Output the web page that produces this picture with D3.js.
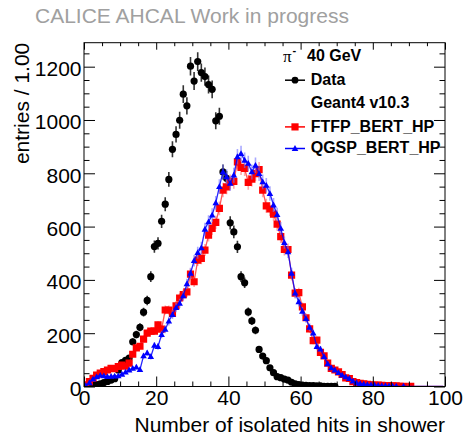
<!DOCTYPE html>
<html>
<head>
<meta charset="utf-8">
<script src="https://cdn.jsdelivr.net/npm/d3@7"></script>
<style>
  body { margin: 0; background: #fff; }
  text { font-family: "Liberation Sans", Arial, Helvetica, sans-serif; }
</style>
</head>
<body>
<svg id="chart" width="467" height="436"></svg>
<script>
// Number of isolated hits per shower, 1-hit bins starting at 0
const dataCounts = [
  1, 3, 5, 7, 10, 15, 19, 24, 29, 62,
  90, 98, 107, 168, 195, 222, 279, 323, 412, 525,
  537, 620, 684, 777, 890, 946, 999, 1097, 1053, 1202,
  1146, 1219, 1178, 1163, 1133, 1115, 997, 1014, 805, 781,
  614, 580, 524, 412, 389, 280, 246, 211, 139, 114,
  97, 70, 52, 37, 33, 28, 24, 16, 10, 7,
  5, 4, 3, 3, 2, 2, 1, 1, 1, 1
];
const ftfpCounts = [
  6, 18, 31, 43, 50, 56, 62, 68, 67, 75,
  80, 76, 88, 121, 145, 151, 178, 200, 208, 208,
  231, 215, 287, 287, 274, 303, 332, 345, 355, 422,
  393, 474, 481, 512, 568, 593, 616, 668, 737, 749,
  768, 770, 843, 822, 818, 766, 778, 799, 814, 737,
  678, 666, 647, 609, 562, 514, 514, 418, 350, 352,
  299, 258, 216, 172, 174, 128, 115, 88, 68, 62,
  55, 45, 32, 30, 18, 15, 12, 10, 8, 6,
  5, 5, 4, 3, 3, 2, 2, 1, 1, 0, 1
];
const qgspCounts = [
  3, 14, 28, 36, 42, 40, 37, 38, 39, 40,
  46, 54, 62, 68, 73, 63, 115, 126, 112, 154,
  150, 195, 214, 245, 270, 296, 312, 340, 385, 425,
  472, 502, 520, 590, 618, 643, 689, 750, 805, 787,
  762, 793, 862, 874, 849, 837, 805, 830, 799, 768,
  755, 724, 681, 645, 593, 540, 505, 425, 350, 318,
  282, 255, 222, 200, 150, 140, 112, 85, 70, 62,
  52, 43, 36, 30, 20, 14, 11, 9, 7, 6,
  5, 4, 3, 3, 2, 1, 1, 0, 1
];
const nBins = 100;
const xTickValues = [0, 20, 40, 60, 80, 100];
const yTickValues = [0, 200, 400, 600, 800, 1000, 1200];
const xLabel = "Number of isolated hits in shower";
const yLabel = "entries /  1.00";
const headerText = "CALICE AHCAL Work in progress";

const svg = d3.select("#chart");
const plot = { left: 84, right: 445, top: 42.7, bottom: 386.5 };

const x = d3.scaleLinear().domain([0, 100]).range([plot.left, plot.right]);
const y = d3.scaleLinear().domain([0, 1290]).range([plot.bottom, plot.top]);

svg.append("rect").attr("width", 467).attr("height", 436).attr("fill", "#fff");

// header
svg.append("text").attr("x", 35).attr("y", 22.5)
  .attr("font-size", 21).attr("fill", "#a0a0a0").text(headerText);

// clip to the frame
svg.append("clipPath").attr("id", "frame-clip").append("rect")
  .attr("x", plot.left).attr("y", plot.top)
  .attr("width", plot.right - plot.left).attr("height", plot.bottom - plot.top);

const pad = arr => d3.range(nBins).map(i => (i < arr.length ? arr[i] : 0));
const toPoints = arr => pad(arr).map((v, i) => ({ c: i + 0.5, v }));

const layer = svg.append("g").attr("clip-path", "url(#frame-clip)");

// measured data
const dataPts = toPoints(dataCounts).filter(d => d.v > 0);
layer.append("g").selectAll("line").data(dataPts).join("line")
  .attr("x1", d => x(d.c)).attr("x2", d => x(d.c))
  .attr("y1", d => y(d.v - Math.sqrt(d.v))).attr("y2", d => y(d.v + Math.sqrt(d.v)))
  .attr("stroke", "#333").attr("stroke-width", 1.6);
layer.append("g").selectAll("circle").data(dataPts).join("circle")
  .attr("cx", d => x(d.c)).attr("cy", d => y(d.v)).attr("r", 3.6).attr("fill", "#000");

// simulated series
function drawSim(counts, color, lightColor, lineOpacity, marker) {
  const pts = toPoints(counts);
  const g = layer.append("g");
  const nz = pts.filter(d => d.v > 0);
  g.append("g").selectAll("line").data(nz).join("line")
    .attr("x1", d => x(d.c)).attr("x2", d => x(d.c))
    .attr("y1", d => y(d.v - Math.sqrt(d.v))).attr("y2", d => y(d.v + Math.sqrt(d.v)))
    .attr("stroke", lightColor).attr("stroke-width", 1.6).attr("stroke-opacity", 0.6);
  g.append("path").datum(pts)
    .attr("d", d3.line().x(d => x(d.c)).y(d => y(d.v)))
    .attr("fill", "none").attr("stroke", color).attr("stroke-width", 1.3)
    .attr("stroke-opacity", lineOpacity);
  g.append("g").selectAll("path").data(nz).join("path")
    .attr("transform", d => `translate(${x(d.c)},${y(d.v)})`)
    .attr("d", marker).attr("fill", color);
}
const squareMarker = "M-3.6,-3.6H3.6V3.6H-3.6Z";
const triangleMarker = "M0,-3.4L3.3,2.4H-3.3Z";
drawSim(ftfpCounts, "#ff0000", "#ff7070", 0.65, squareMarker);
drawSim(qgspCounts, "#0000ff", "#6f6fff", 0.85, triangleMarker);

// axes
const minorX = d3.range(0, 101, 5).filter(v => v % 20 !== 0);
const minorY = d3.range(0, 1290, 50).filter(v => v % 200 !== 0);
function styleAxis(g) {
  g.select(".domain").remove();
  g.selectAll("line").attr("stroke", "#000").attr("stroke-width", 1);
  g.selectAll("text").attr("font-size", 21).attr("fill", "#000")
    .attr("font-family", '"Liberation Sans", Arial, Helvetica, sans-serif');
}
svg.append("g").attr("transform", `translate(0,${plot.bottom})`)
  .call(d3.axisBottom(x).tickValues(xTickValues).tickSize(-10).tickPadding(4).tickFormat(d3.format("d")))
  .call(styleAxis);
svg.append("g").attr("transform", `translate(0,${plot.bottom})`)
  .call(d3.axisBottom(x).tickValues(minorX).tickSize(-5).tickFormat(""))
  .call(styleAxis);
svg.append("g").attr("transform", `translate(0,${plot.top})`)
  .call(d3.axisTop(x).tickValues(xTickValues).tickSize(-7).tickFormat(""))
  .call(styleAxis);
svg.append("g").attr("transform", `translate(0,${plot.top})`)
  .call(d3.axisTop(x).tickValues(minorX).tickSize(-3.5).tickFormat(""))
  .call(styleAxis);
const yAxis = svg.append("g").attr("transform", `translate(${plot.left},0)`)
  .call(d3.axisLeft(y).tickValues(yTickValues).tickSize(-11).tickPadding(2.5).tickFormat(d3.format("d")))
  .call(styleAxis);
yAxis.selectAll("text").attr("dy", "0.42em");
svg.append("g").attr("transform", `translate(${plot.left},0)`)
  .call(d3.axisLeft(y).tickValues(minorY).tickSize(-5.5).tickFormat(""))
  .call(styleAxis);
svg.append("g").attr("transform", `translate(${plot.right},0)`)
  .call(d3.axisRight(y).tickValues(yTickValues).tickSize(-11).tickFormat(""))
  .call(styleAxis);
svg.append("g").attr("transform", `translate(${plot.right},0)`)
  .call(d3.axisRight(y).tickValues(minorY).tickSize(-5.5).tickFormat(""))
  .call(styleAxis);

// frame
svg.append("rect").attr("x", plot.left).attr("y", plot.top)
  .attr("width", plot.right - plot.left).attr("height", plot.bottom - plot.top)
  .attr("fill", "none").attr("stroke", "#000").attr("stroke-width", 1);

// axis titles
svg.append("text").attr("x", 445).attr("y", 431.5).attr("text-anchor", "end")
  .attr("font-size", 21).text(xLabel);
svg.append("text").attr("transform", `translate(28.5,${plot.top}) rotate(-90)`)
  .attr("text-anchor", "end").attr("font-size", 21).text(yLabel);

// legend
const lg = svg.append("g");
const head = lg.append("text").attr("x", 283).attr("y", 61.5);
head.append("tspan").attr("font-size", 17)
  .attr("font-family", '"Liberation Serif", "Times New Roman", serif').text("π");
head.append("tspan").attr("font-size", 11).attr("font-weight", "bold")
  .attr("dy", -7.5).attr("dx", 1).text("-");
head.append("tspan").attr("font-size", 16).attr("font-weight", "bold")
  .attr("x", 307).attr("y", 61).text("40 GeV");

const legendRows = [
  { label: "Data", y: 85, color: "#000", marker: "circle" },
  { label: "Geant4 v10.3", y: 107.7, color: null, marker: null },
  { label: "FTFP_BERT_HP", y: 131.7, color: "#ff0000", marker: squareMarker },
  { label: "QGSP_BERT_HP", y: 153.3, color: "#0000ff", marker: triangleMarker }
];
legendRows.forEach(r => {
  if (r.color) {
    const my = r.y - 4.8;
    lg.append("line").attr("x1", 285).attr("x2", 305).attr("y1", my).attr("y2", my)
      .attr("stroke", r.color).attr("stroke-width", 1.5);
    if (r.marker === "circle") {
      lg.append("circle").attr("cx", 295).attr("cy", my).attr("r", 3.4).attr("fill", r.color);
    } else {
      lg.append("path").attr("transform", `translate(295,${my})`).attr("d", r.marker).attr("fill", r.color);
    }
  }
  lg.append("text").attr("x", 310.7).attr("y", r.y).attr("font-size", 16)
    .attr("font-weight", "bold").text(r.label);
});
</script>
</body>
</html>
